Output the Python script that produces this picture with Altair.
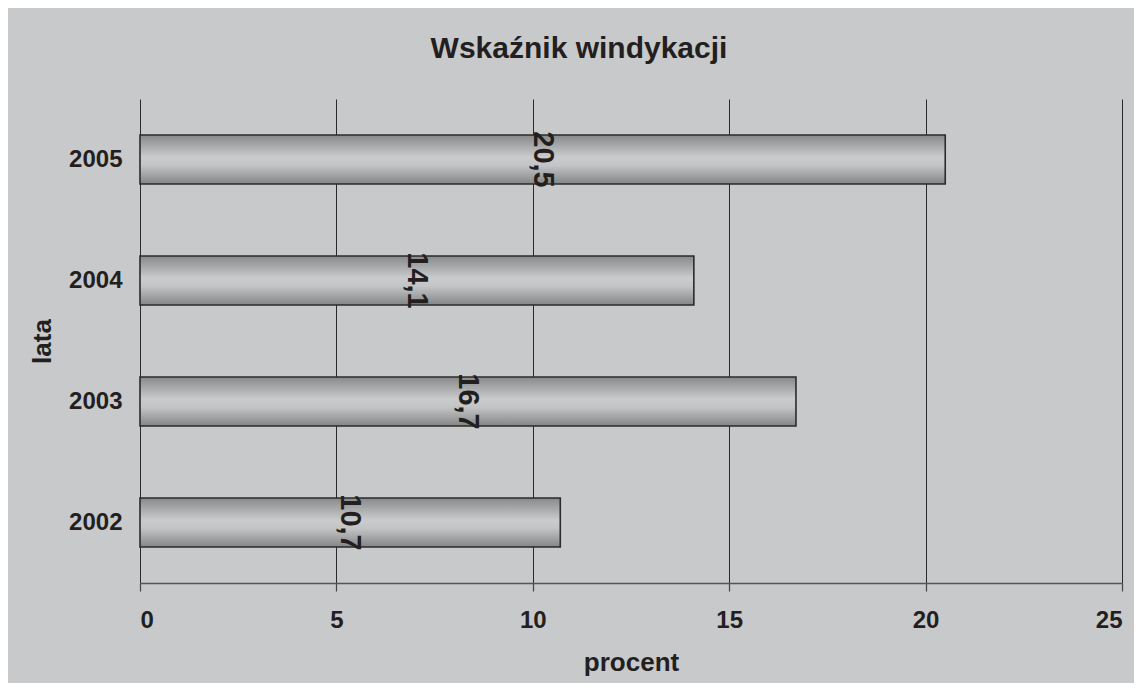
import altair as alt
import pandas as pd

years = ["2005", "2004", "2003", "2002"]
values = [20.5, 14.1, 16.7, 10.7]
x_ticks = [0, 5, 10, 15, 20, 25]

df = pd.DataFrame({"rok": years, "procent": values})

FONT = "Liberation Sans"
INK = "#231f20"
BG = "#c8c9cb"

grad = alt.Gradient(
    gradient="linear",
    x1=0, y1=0, x2=0, y2=1,
    stops=[
        alt.GradientStop(color="#88898b", offset=0),
        alt.GradientStop(color="#cacbcd", offset=0.45),
        alt.GradientStop(color="#c3c4c6", offset=0.62),
        alt.GradientStop(color="#848587", offset=1),
    ],
)

y_enc = alt.Y(
    "rok:N",
    sort=years,
    scale=alt.Scale(paddingInner=0.595, paddingOuter=0.2975),
    axis=alt.Axis(
        title="lata",
        domain=False,
        ticks=False,
        labelPadding=18,
        labelFontSize=24,
        labelFont=FONT,
        labelFontWeight="bold",
        labelColor=INK,
        titleFontSize=26,
        titleFont=FONT,
        titleFontWeight="bold",
        titleColor=INK,
        titleAngle=-90,
        titleBaseline="alphabetic",
        titleX=-90,
        titleY=242,
        titleAlign="center",
    ),
)

x_enc = alt.X(
    "procent:Q",
    scale=alt.Scale(domain=[0, 25], nice=False, zero=True),
    axis=alt.Axis(
        title="procent",
        values=x_ticks,
        grid=True,
        gridColor="#2a2a2a",
        gridWidth=1,
        gridOpacity=1,
        domainColor="#555555",
        domainWidth=1.5,
        tickColor="#444444",
        tickSize=8,
        tickWidth=1.2,
        labelPadding=17,
        labelFontSize=24,
        labelFont=FONT,
        labelFontWeight="bold",
        labelColor=INK,
        titleFontSize=26,
        titleFont=FONT,
        titleFontWeight="bold",
        titleColor=INK,
        titleBaseline="alphabetic",
        titleY=87,
        titleX=491,
        titleAlign="center",
    ),
)

bars = alt.Chart(df).mark_bar(
    color=grad, stroke="#2b2b2b", strokeWidth=1.6
).encode(x=x_enc, y=y_enc)

labels = alt.Chart(df).transform_calculate(
    half="datum.procent / 2",
    lab="replace(format(datum.procent, '.1f'), '.', ',')",
).mark_text(
    angle=90,
    align="center",
    baseline="middle",
    fontSize=29,
    font=FONT,
    fontWeight="bold",
    color=INK,
).encode(
    x=alt.X("half:Q"),
    y=alt.Y("rok:N", sort=years),
    text="lab:N",
)

chart = alt.layer(bars, labels).properties(
    width=982,
    height=484,
    background=BG,
    padding={"left": 132, "top": 91, "right": 12, "bottom": 100},
    autosize=alt.AutoSizeParams(type="none"),
    title=alt.TitleParams(
        text="Wskaźnik windykacji",
        fontSize=30,
        font=FONT,
        fontWeight="bold",
        color=INK,
        anchor="middle",
        dx=-52,
        baseline="alphabetic",
        offset=11,
    ),
).configure_view(stroke=None)

chart.save("out.html", embed_options={"renderer": "svg", "actions": False})
